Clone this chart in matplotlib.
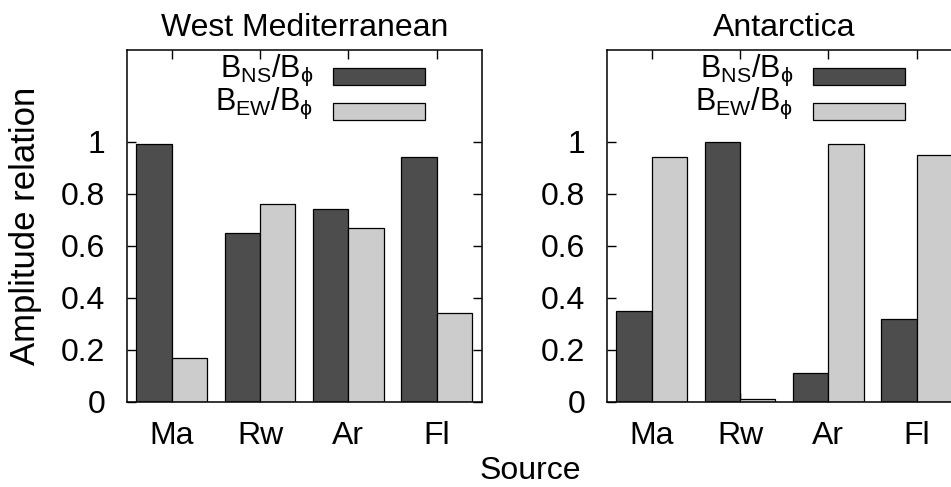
import numpy as np
import matplotlib
matplotlib.use("Agg")
import matplotlib.pyplot as plt
from matplotlib.patches import Rectangle

# Amplitude relations per source, for each region
sources = ["Ma", "Rw", "Ar", "Fl"]
regions = ["West Mediterranean", "Antarctica"]
wmed_ns = [0.99, 0.65, 0.74, 0.94]
wmed_ew = [0.17, 0.76, 0.67, 0.34]
ant_ns = [0.35, 1.00, 0.11, 0.32]
ant_ew = [0.94, 0.01, 0.99, 0.95]
ytick_values = [0, 0.2, 0.4, 0.6, 0.8, 1.0]
ytick_labels = ["0", "0.2", "0.4", "0.6", "0.8", "1"]
series_labels = [r"B$_{\mathregular{NS}}$/B$_{\mathregular{ϕ}}$",
                 r"B$_{\mathregular{EW}}$/B$_{\mathregular{ϕ}}$"]

plt.rcParams["font.family"] = ["Liberation Sans", "DejaVu Sans"]
plt.rcParams["mathtext.fontset"] = "custom"
plt.rcParams["mathtext.rm"] = "Liberation Sans"
plt.rcParams["mathtext.it"] = "Liberation Sans:italic"
plt.rcParams["mathtext.fallback"] = "stixsans"

DARK = "#4d4d4d"
LIGHT = "#cccccc"
FS = 23

W, H = 951, 487
fig = plt.figure(figsize=(W / 100, H / 100), dpi=100)


def px_axes(left, top, right, bottom):
    return [left / W, 1 - bottom / H, (right - left) / W, (bottom - top) / H]


def draw_panel(ax, title, ns, ew):
    x = np.arange(len(sources))
    bw = 0.4
    ax.bar(x - bw / 2, ns, bw, color=DARK, edgecolor="black", linewidth=0.9, zorder=2)
    ax.bar(x + bw / 2, ew, bw, color=LIGHT, edgecolor="black", linewidth=0.9, zorder=2)
    ax.set_xlim(-0.51, 3.51)
    ax.set_ylim(0, 1.3527)
    ax.set_xticks(x, sources)
    ax.set_yticks(ytick_values, ytick_labels)
    ax.tick_params(axis="both", direction="in", length=6.5, width=1.0,
                   labelsize=FS, top=True, right=True)
    ax.tick_params(axis="y", pad=15.5)
    ax.tick_params(axis="x", pad=14)
    for s in ax.spines.values():
        s.set_linewidth(1.1)
        s.set_zorder(3)
    ax.text(0.5, 1.041, title, transform=ax.transAxes, ha="center",
            va="baseline", fontsize=FS)

    # key: right-aligned labels with sample boxes
    colors = [DARK, LIGHT]
    box_rows = [(0.900, 0.948), (0.801, 0.850)]
    baselines = [0.924, 0.829]
    for lab, col, (y0, y1), yb in zip(series_labels, colors, box_rows, baselines):
        ax.add_patch(Rectangle((0.581, y0), 0.259, y1 - y0, transform=ax.transAxes,
                               facecolor=col, edgecolor="black", linewidth=0.9,
                               zorder=4, clip_on=False))
        ax.text(0.525, yb, lab, transform=ax.transAxes, ha="right",
                va="baseline", fontsize=22)


ax1 = fig.add_axes(px_axes(126.7, 50, 481.7, 401.7))
ax2 = fig.add_axes(px_axes(606.7, 50, 961.7, 401.7))
draw_panel(ax1, regions[0], wmed_ns, wmed_ew)
draw_panel(ax2, regions[1], ant_ns, ant_ew)

fig.text(26 / W, 1 - 226 / H, "Amplitude relation", rotation=90,
         ha="center", va="center", fontsize=25)
fig.text(530 / W, 1 - 479 / H, "Source", ha="center", va="baseline", fontsize=FS)

fig.savefig("out.png", dpi=100)
